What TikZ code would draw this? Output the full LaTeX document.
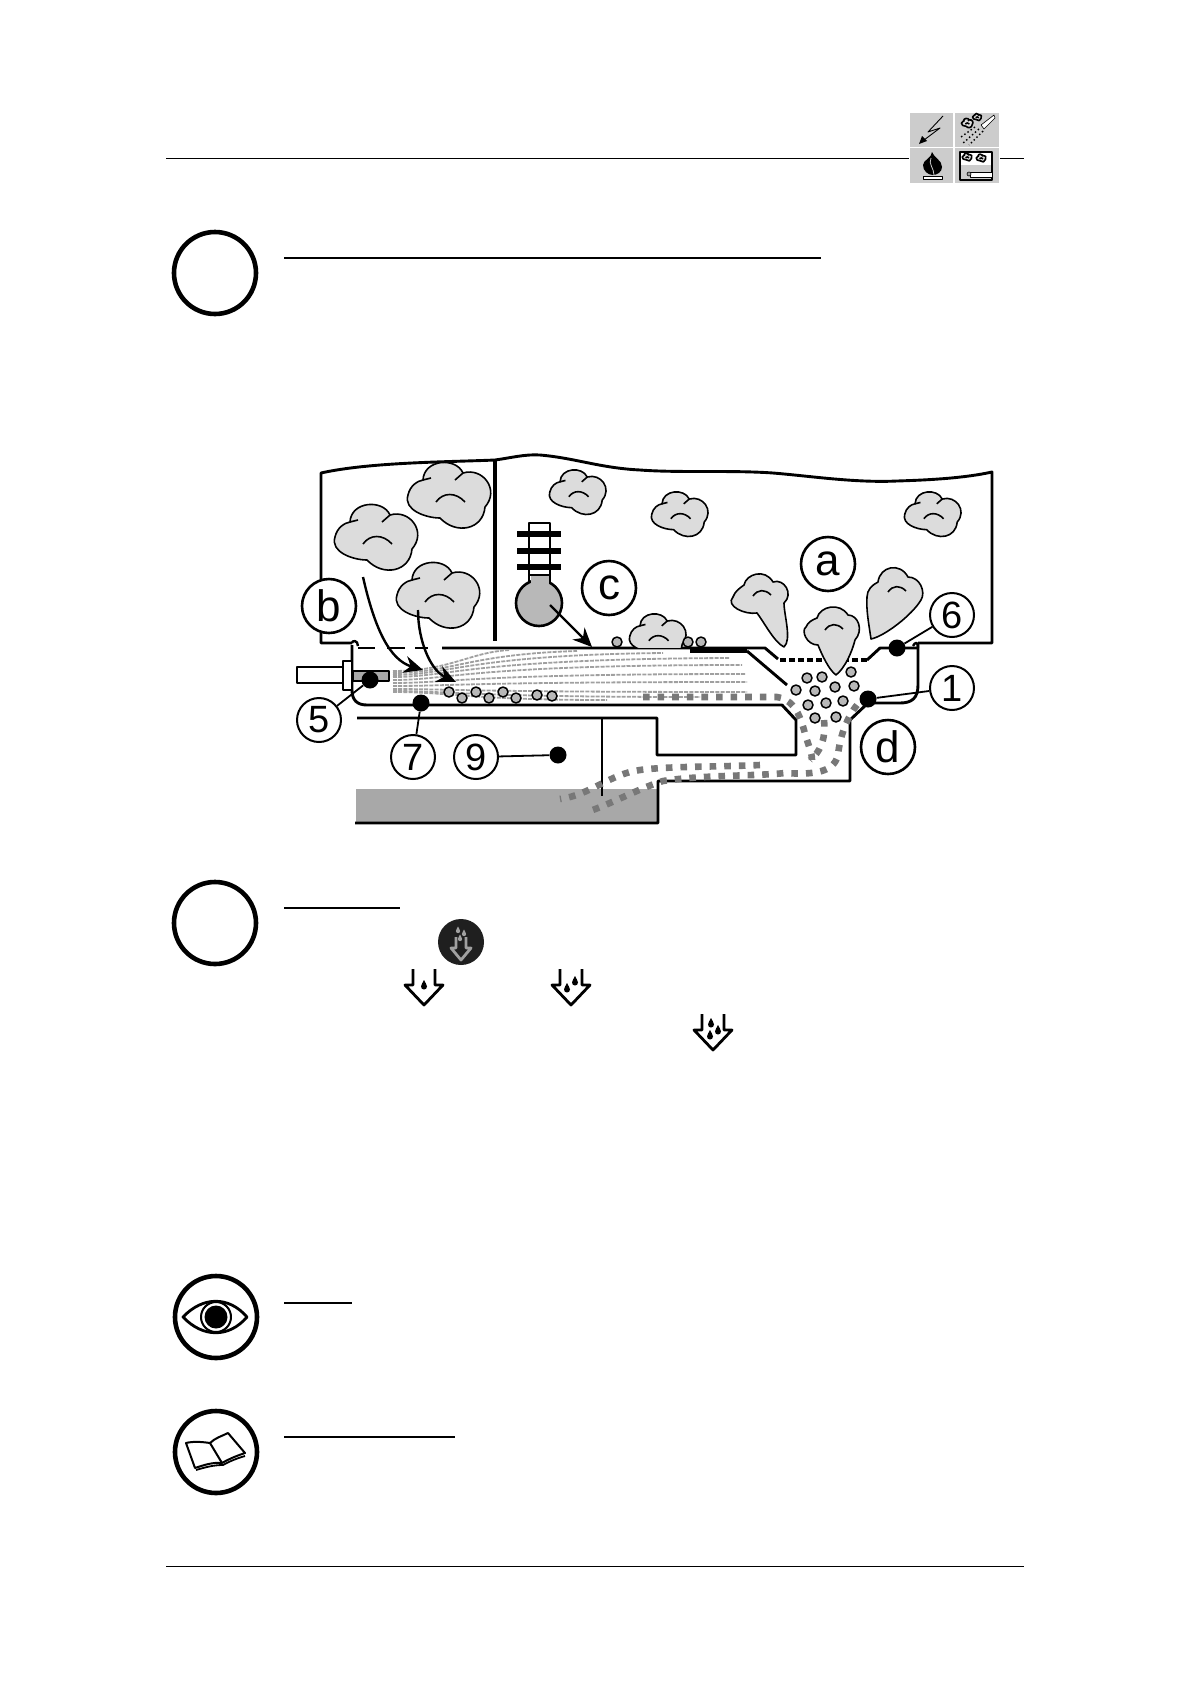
\documentclass[tikz,border=0pt]{standalone}
\usepackage{fontspec}
\setmainfont{Liberation Sans}
\usetikzlibrary{arrows.meta}

\definecolor{cloudgray}{HTML}{DCDCDC}
\definecolor{dropgray}{HTML}{B8B8B8}
\definecolor{poolgray}{HTML}{A8A8A8}
\definecolor{pathgray}{HTML}{787878}
\definecolor{spraygray}{HTML}{A0A0A0}
\definecolor{icongray}{HTML}{CCCCCC}

\tikzset{
    wall/.style={line width=2.9pt},
    biglabel/.style={circle,draw,fill=white,line width=2.6pt,minimum size=54pt,inner sep=0pt,font=\fontsize{44}{44}\selectfont},
    numlabel/.style={circle,draw,fill=white,line width=2pt,minimum size=44pt,inner sep=0pt,font=\fontsize{38}{38}\selectfont},
    blackdot/.style={circle,fill=black,minimum size=17pt,inner sep=0pt},
    ring/.style={line width=4.6pt},
    linker/.style={line width=1.8pt},
    flowpath/.style={pathgray,line width=6.6pt,dash pattern=on 6.6pt off 8pt},
    spray/.style={spraygray,line width=1.8pt,dash pattern=on 4pt off 1.2pt},
    bigarrow/.style={line width=2.4pt,-{Stealth[length=19pt,width=17pt]}},
    cloud/.pic={
        \draw[fill=cloudgray,line width=1.6pt] (-25,-15)
            .. controls (-24,-36) and (8,-38) .. (15,-22)
            .. controls (35,-28) and (52,-5) .. (37,12)
            .. controls (35,35) and (8,40) .. (-8,23)
            .. controls (-22,23) and (-45,15) .. (-40,0)
            .. controls (-38,-9) and (-31,-14) .. (-25,-15) -- cycle;
        \draw[line width=1.6pt] (-25,-15) -- (-17,-17) (15,-22) -- (7,-15);
        \draw[line width=1.6pt] (-12,7) .. controls (-5,-3) and (8,-3) .. (17,7);
    },
    drop/.pic={
        \fill (0,-5) .. controls (1,-2) and (3,-1) .. (3,1.5)
            .. controls (3,5.5) and (-3,5.5) .. (-3,1.5)
            .. controls (-3,-1) and (-1,-2) .. (0,-5) -- cycle;
    },
    droparrow/.pic={
        \draw[line width=2.8pt] (-11,-36) -- (-11,-20) -- (-19,-20) -- (0,0) -- (19,-20) -- (11,-20) -- (11,-36);
    },
}

\begin{document}
\begin{tikzpicture}[x=1pt,y=-1pt,line join=round]
    \useasboundingbox (0,0) rectangle (1190,1684);

    % Page rules
    \draw[line width=1pt] (166,158) -- (909,158);
    \draw[line width=1pt] (1000,158) -- (1024,158);
    \draw[line width=1pt] (166,1566) -- (1024,1566);

    % Icon block at the top
    \fill[icongray] (910,113) rectangle (953,147);
    \fill[icongray] (955,113) rectangle (999,147);
    \fill[icongray] (910,148) rectangle (953,183);
    \fill[icongray] (955,148) rectangle (999,183);
    \draw[line width=.9pt] (943,116) -- (928,132) -- (940,128) -- (924,140);
    \fill (919,144) -- (922,136) -- (927,141) -- cycle;
    \pic[scale=.14,transform shape,line width=.5pt] at (967,123) {cloud};
    \pic[scale=.11] at (977,117) {cloud};
    \draw[fill=white,line width=.6pt] (981,125) -- (994,115) -- (995,118) -- (984,129) -- cycle;
    \draw[line width=1.4pt,dash pattern=on 1.5pt off 2.4pt] (979,129) -- (962,144) (983,131) -- (969,145) (975,127) -- (961,137);
    \fill (932,152) .. controls (934,158) and (942,160) .. (942,167)
        .. controls (942,172) and (937,175) .. (933,175)
        .. controls (928,175) and (923,171) .. (923,165)
        .. controls (923,160) and (932,158) .. (932,152) -- cycle;
    \draw[icongray,line width=.8pt] (931,158) .. controls (928,164) and (934,168) .. (934,175);
    \draw[fill=white,line width=.8pt] (923,176) rectangle (942,179);
    \draw[fill=white,line width=1.6pt] (960,152) rectangle (992,180);
    \fill[icongray] (961,165) rectangle (991,179);
    \draw[fill=white,line width=.7pt] (970,172) rectangle (992,177);
    \draw[fill=spraygray,line width=.6pt] (969,174) circle (2);
    \pic[scale=.12] at (967,157) {cloud};
    \pic[scale=.12] at (981,158) {cloud};

    % Section circles and headings
    \draw[ring] (215,273) circle (41);
    \draw[ring] (215,923) circle (41);
    \draw[line width=1.2pt] (284,258) -- (821,258);
    \draw[line width=1.2pt] (284,908) -- (400,908);
    \draw[line width=2pt] (284,1303) -- (352,1303);
    \draw[line width=1.2pt] (284,1437) -- (455,1437);

    % Eye
    \draw[ring] (216,1317) circle (41);
    \draw[line width=2.8pt] (183,1317) .. controls (203,1296) and (229,1296) .. (247,1317)
        .. controls (229,1338) and (203,1338) .. (183,1317) -- cycle;
    \draw[line width=2pt,fill=white] (216,1317) circle (15);
    \fill (216,1317) circle (11.5);

    % Book
    \draw[ring] (216,1452) circle (41);
    \draw[line width=2pt,fill=white] (186,1443) .. controls (194,1441) and (203,1442) .. (210,1443)
        .. controls (215,1438) and (222,1436) .. (228,1433) -- (245,1453)
        .. controls (236,1456) and (229,1459) .. (222,1463)
        .. controls (213,1462) and (204,1465) .. (195,1468) -- cycle;
    \draw[line width=2pt] (210,1443) -- (222,1463);
    \draw[line width=1.8pt] (196,1470) .. controls (206,1467) and (214,1465) .. (223,1465)
        .. controls (230,1461) and (238,1458) .. (245,1456);

    % Air above the bath
    \draw[wall] (352,643) -- (321,643) -- (321,473)
        .. controls (370,462) and (450,462) .. (495,460)
        .. controls (510,458) and (525,454) .. (540,455)
        .. controls (575,458) and (600,468) .. (640,470)
        .. controls (680,473) and (730,470) .. (773,473)
        .. controls (810,476) and (855,483) .. (897,481)
        .. controls (930,480) and (965,478) .. (992,472)
        -- (992,643) -- (918,643);
    \draw[line width=3.6pt] (495,460) -- (495,641);

    % Pool
    \fill[poolgray] (356,789) rectangle (658,823);
    \draw[wall] (355,823) -- (658,823) -- (658,781) -- (850,781) -- (850,720) -- (868,703);

    % Cavity under the bath
    \draw[wall] (357,718) -- (657,718) -- (657,755) -- (796,755) -- (796,720) -- (782,705) -- (367,705)
        .. controls (357,705) and (352,700) .. (352,690) -- (352,645);
    \draw[wall] (868,703) -- (900,703) .. controls (912,703) and (918,698) .. (918,685) -- (918,643);
    \draw[wall] (602,718) -- (602,796);

    % Bath surface
    \draw[wall] (442,648) -- (765,648) -- (778,659);
    \draw[line width=3.4pt,dash pattern=on 6pt off 3pt] (780,660) -- (867,660);
    \draw[wall] (358,648) -- (375,648) (387,648) -- (405,648) (415,648) -- (428,648);
    \draw[wall] (867,660) -- (880,648) -- (918,648);
    \draw[wall] (747,651) -- (787,685);
    \draw[line width=4.6pt] (690,651) -- (747,651);
    \draw[line width=2.4pt] (352,643) .. controls (352,640) and (358,640) .. (358,646);
    \draw[line width=2.4pt] (918,648) .. controls (918,641) and (915,642) .. (913,646);

    % Clouds
    \pic at (448,495) {cloud};
    \pic at (375,537) {cloud};
    \pic at (437,595) {cloud};
    \pic[scale=.68] at (577,492) {cloud};
    \pic[scale=.68] at (679,514) {cloud};
    \pic[scale=.68] at (932,514) {cloud};
    \begin{scope}
        \clip (620,600) rectangle (700,647);
        \pic[scale=.68] at (657,636) {cloud};
    \end{scope}

    % Clouds rising from the boiling zone
    \draw[fill=cloudgray,line width=1.6pt] (744,585)
        .. controls (746,574) and (765,568) .. (773,582)
        .. controls (784,578) and (794,594) .. (784,603)
        .. controls (784,615) and (792,640) .. (784,647)
        .. controls (774,642) and (764,622) .. (757,613)
        .. controls (745,615) and (725,606) .. (733,597)
        .. controls (735,591) and (740,588) .. (744,585) -- cycle;
    \draw[fill=cloudgray,line width=1.6pt] (817,618)
        .. controls (820,606) and (840,602) .. (848,615)
        .. controls (858,615) and (864,630) .. (855,640)
        .. controls (852,652) and (845,668) .. (836,675)
        .. controls (829,670) and (822,655) .. (818,645)
        .. controls (806,645) and (801,630) .. (806,627)
        .. controls (808,622) and (812,620) .. (817,618) -- cycle;
    \draw[fill=cloudgray,line width=1.6pt] (878,582)
        .. controls (880,566) and (900,562) .. (908,577)
        .. controls (920,577) and (926,592) .. (921,600)
        .. controls (912,615) and (885,636) .. (871,639)
        .. controls (869,625) and (866,610) .. (867,597)
        .. controls (867,590) and (872,585) .. (878,582) -- cycle;
    \foreach \cx/\cy in {760/594,832/628,895/590}
        \draw[line width=1.6pt] (\cx-7,\cy+2) .. controls (\cx-2,\cy-5) and (\cx+5,\cy-5) .. (\cx+11,\cy+1);

    % Spray
    \foreach \sy/\ex/\ey/\by in {671/510/650/652,673/577/651/654,675/663/653/655,677/730/658/659,680/742/665/665,683/745/674/674,686/747/682/682,689/747/692/692,691/700/697/697,692/607/700/700}
        \draw[spray] (393,\sy) .. controls (450,\sy) and (470,\by) .. (\ex,\ey);

    % Injector
    \draw[fill=white,line width=1.6pt] (297,667) rectangle (343,683);
    \draw[fill=white,line width=1.6pt] (343,661) rectangle (352,690);
    \draw[fill=poolgray,line width=1.6pt] (353,671) rectangle (389,681);

    % Thermometer
    \draw[line width=2.6pt,fill=white] (529,590) -- (529,523) -- (550,523) -- (550,590);
    \fill[dropgray] (530.5,575) rectangle (548.5,590);
    \draw[line width=2.6pt,fill=dropgray] (539,603) circle (23);
    \fill[dropgray] (530.5,575) rectangle (548.5,590);
    \draw[line width=2.6pt] (530,575) -- (549,575);
    \draw[line width=5.4pt] (517,534) -- (561,534) (517,551) -- (561,551) (517,567) -- (561,567);

    % Drops on the floor, on the surface and in the cavity
    \foreach \dx/\dy in {449/692,462/698,476/692,489/698,503/692,516/698,537/695,552/696,617/642,688/642,701/642,
        807/678,822/677,851/672,796/690,815/691,835/687,854/686,808/705,826/703,843/701,815/718,836/717}
        \draw[fill=dropgray,line width=1.5pt] (\dx,\dy) circle (5);

    % Dotted water paths
    \draw[flowpath] (643,697) -- (777,697) .. controls (790,699) and (798,708) .. (804,730) .. controls (808,745) and (812,752) .. (812,760);
    \draw[flowpath] (857,705) .. controls (848,716) and (840,735) .. (838,755)
        .. controls (834,772) and (815,775) .. (785,773) .. controls (760,776) and (700,775) .. (663,781)
        .. controls (640,788) and (615,802) .. (590,811);
    \draw[flowpath] (824,720) .. controls (826,740) and (820,752) .. (810,760);
    \draw[flowpath] (760,765) .. controls (720,767) and (670,766) .. (640,770) .. controls (610,774) and (590,795) .. (560,799);

    % Black dots
    \node[blackdot] (dot5) at (370,680) {};
    \node[blackdot] (dot7) at (421,703) {};
    \node[blackdot] (dot9) at (558,755) {};
    \node[blackdot] (dot6) at (897,648) {};
    \node[blackdot] (dot1) at (868,699) {};

    % Letters and numbers
    \node[biglabel] (a) at (828,564) {a};
    \node[biglabel] (b) at (329,606) {b};
    \node[biglabel] (c) at (609,588) {c};
    \node[biglabel] (d) at (888,747) {d};
    \node[numlabel] (n1) at (952,688) {1};
    \node[numlabel] (n5) at (319,720) {5};
    \node[numlabel] (n6) at (952,615) {6};
    \node[numlabel] (n7) at (413,757) {7};
    \node[numlabel] (n9) at (476,757) {9};

    \draw[linker] (n1) -- (dot1);
    \draw[linker] (n5) -- (dot5);
    \draw[linker] (n6) -- (dot6);
    \draw[linker] (n7) -- (dot7);
    \draw[linker] (n9) -- (dot9);

    % Arrows
    \draw[bigarrow] (550,605) -- (592,647);
    \draw[bigarrow] (363,577) .. controls (375,630) and (390,660) .. (423,670);
    \draw[bigarrow] (418,610) .. controls (418,640) and (430,670) .. (456,682);

    % Drop level icons
    \fill[black!88] (461,942) circle (23);
    \draw[spraygray,line width=2.8pt] (456,937) -- (456,948) -- (451,948) -- (461,960) -- (471,948) -- (466,948) -- (466,937);
    \pic[spraygray,scale=.7] at (458,930) {drop};
    \pic[spraygray,scale=.7] at (464,933) {drop};
    \pic[spraygray,scale=.7] at (460,938) {drop};

    \pic at (424,1005) {droparrow};
    \pic at (424,985) {drop};
    \pic at (571,1005) {droparrow};
    \pic at (567,988) {drop};
    \pic at (575,981) {drop};
    \pic at (713,1050) {droparrow};
    \pic at (711,1023) {drop};
    \pic at (718,1030) {drop};
    \pic at (710,1035) {drop};
\end{tikzpicture}
\end{document}
